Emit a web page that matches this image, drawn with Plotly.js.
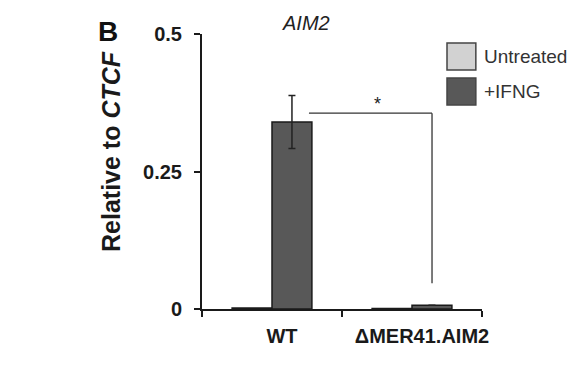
<!DOCTYPE html>
<html>
<head>
<meta charset="utf-8">
<script src="https://cdn.plot.ly/plotly-3.0.1.min.js"></script>
<style>html,body{margin:0;padding:0;background:#fff;}#chart{width:584px;height:367px;}</style>
</head>
<body>
<div id="chart"></div>
<script>
const categories = ["WT", "\u0394MER41.AIM2"];
const untreated = [0.002, 0.001];
const untreatedErr = [0, 0];
const ifng = [0.34, 0.007];
const ifngErr = [0.048, 0];
const seriesNames = ["Untreated", "+IFNG"];
const colors = ["#d2d2d2", "#585858"];
const yTicks = [0, 0.25, 0.5];
const yTickText = ["0", "0.25", "0.5"];

const font = "Liberation Sans, Arial, sans-serif";

const traces = [
  {type: "bar", name: seriesNames[0], x: categories, y: untreated,
   marker: {color: colors[0], line: {color: "#1a1a1a", width: 1.5}},
   error_y: {type: "data", array: untreatedErr, visible: false}, showlegend: false},
  {type: "bar", name: seriesNames[1], x: categories, y: ifng,
   marker: {color: colors[1], line: {color: "#1a1a1a", width: 1.5}},
   error_y: {type: "data", array: ifngErr, visible: true, color: "#222", thickness: 1.5, width: 3.5},
   showlegend: false}
];

// significance bracket (from WT +IFNG to ΔMER41 +IFNG)
const bracketY = 0.356, bracketX0 = 0.264, bracketX1 = 1.143, bracketYEnd = 0.047;

const layout = {
  width: 584, height: 367,
  margin: {l: 202, r: 102, t: 34, b: 58},
  paper_bgcolor: "#fff", plot_bgcolor: "#fff",
  barmode: "group", bargap: 0.43, bargroupgap: 0,
  showlegend: false,
  xaxis: {
    type: "category", range: [-0.5, 1.5], tickangle: 0, automargin: false,
    showline: true, linecolor: "#1a1a1a", linewidth: 2,
    ticks: "outside", tickson: "boundaries", ticklen: 6, tickwidth: 2, tickcolor: "#1a1a1a",
    showgrid: false, zeroline: false,
    tickfont: {family: font, size: 20, color: "#1a1a1a", weight: "bold"},
    ticklabelstandoff: 8, ticklabelshift: 10
  },
  yaxis: {
    range: [0, 0.5], tickvals: yTicks, ticktext: yTickText, automargin: false,
    showline: true, linecolor: "#1a1a1a", linewidth: 2,
    ticks: "outside", ticklen: 6, tickwidth: 2, tickcolor: "#1a1a1a",
    showgrid: false, zeroline: false,
    tickfont: {family: font, size: 20, color: "#1a1a1a", weight: "bold"},
    ticklabelstandoff: 8
  },
  shapes: [
    {type: "line", xref: "x", yref: "y", x0: bracketX0, x1: bracketX1, y0: bracketY, y1: bracketY, line: {color: "#333", width: 1.3}},
    {type: "line", xref: "x", yref: "y", x0: bracketX1, x1: bracketX1, y0: bracketY, y1: bracketYEnd, line: {color: "#333", width: 1.3}},
    // legend swatches
    {type: "rect", xref: "paper", yref: "paper", x0: 0.875, x1: 0.978, y0: 0.869, y1: 0.967, fillcolor: colors[0], line: {color: "#444", width: 1.5}},
    {type: "rect", xref: "paper", yref: "paper", x0: 0.875, x1: 0.978, y0: 0.742, y1: 0.84, fillcolor: colors[1], line: {color: "#444", width: 1.5}}
  ],
  annotations: [
    {text: "*", xref: "x", yref: "y", x: 0.757, y: 0.372, showarrow: false,
     font: {family: font, size: 18, color: "#222"}},
    {text: "<i>AIM2</i>", xref: "paper", yref: "paper", x: 0.372, y: 1.04, xanchor: "center", yanchor: "middle",
     showarrow: false, font: {family: font, size: 20, color: "#222"}},
    {text: "<b>B</b>", xref: "paper", yref: "paper", x: -0.336, y: 1.01, xanchor: "center", yanchor: "middle",
     showarrow: false, font: {family: font, size: 28, color: "#111"}},
    {text: "<b>Relative to <i>CTCF</i></b>", xref: "paper", yref: "paper", x: -0.325, y: 0.571,
     xanchor: "center", yanchor: "middle", textangle: -90, showarrow: false,
     font: {family: font, size: 25, color: "#1a1a1a"}},
    {text: seriesNames[0], xref: "paper", yref: "paper", x: 1.0, y: 0.918, xanchor: "left", yanchor: "middle",
     showarrow: false, font: {family: font, size: 19, color: "#333"}},
    {text: seriesNames[1], xref: "paper", yref: "paper", x: 1.0, y: 0.791, xanchor: "left", yanchor: "middle",
     showarrow: false, font: {family: font, size: 19, color: "#333"}}
  ]
};

Plotly.newPlot("chart", traces, layout, {displayModeBar: false, staticPlot: true});
</script>
</body>
</html>
